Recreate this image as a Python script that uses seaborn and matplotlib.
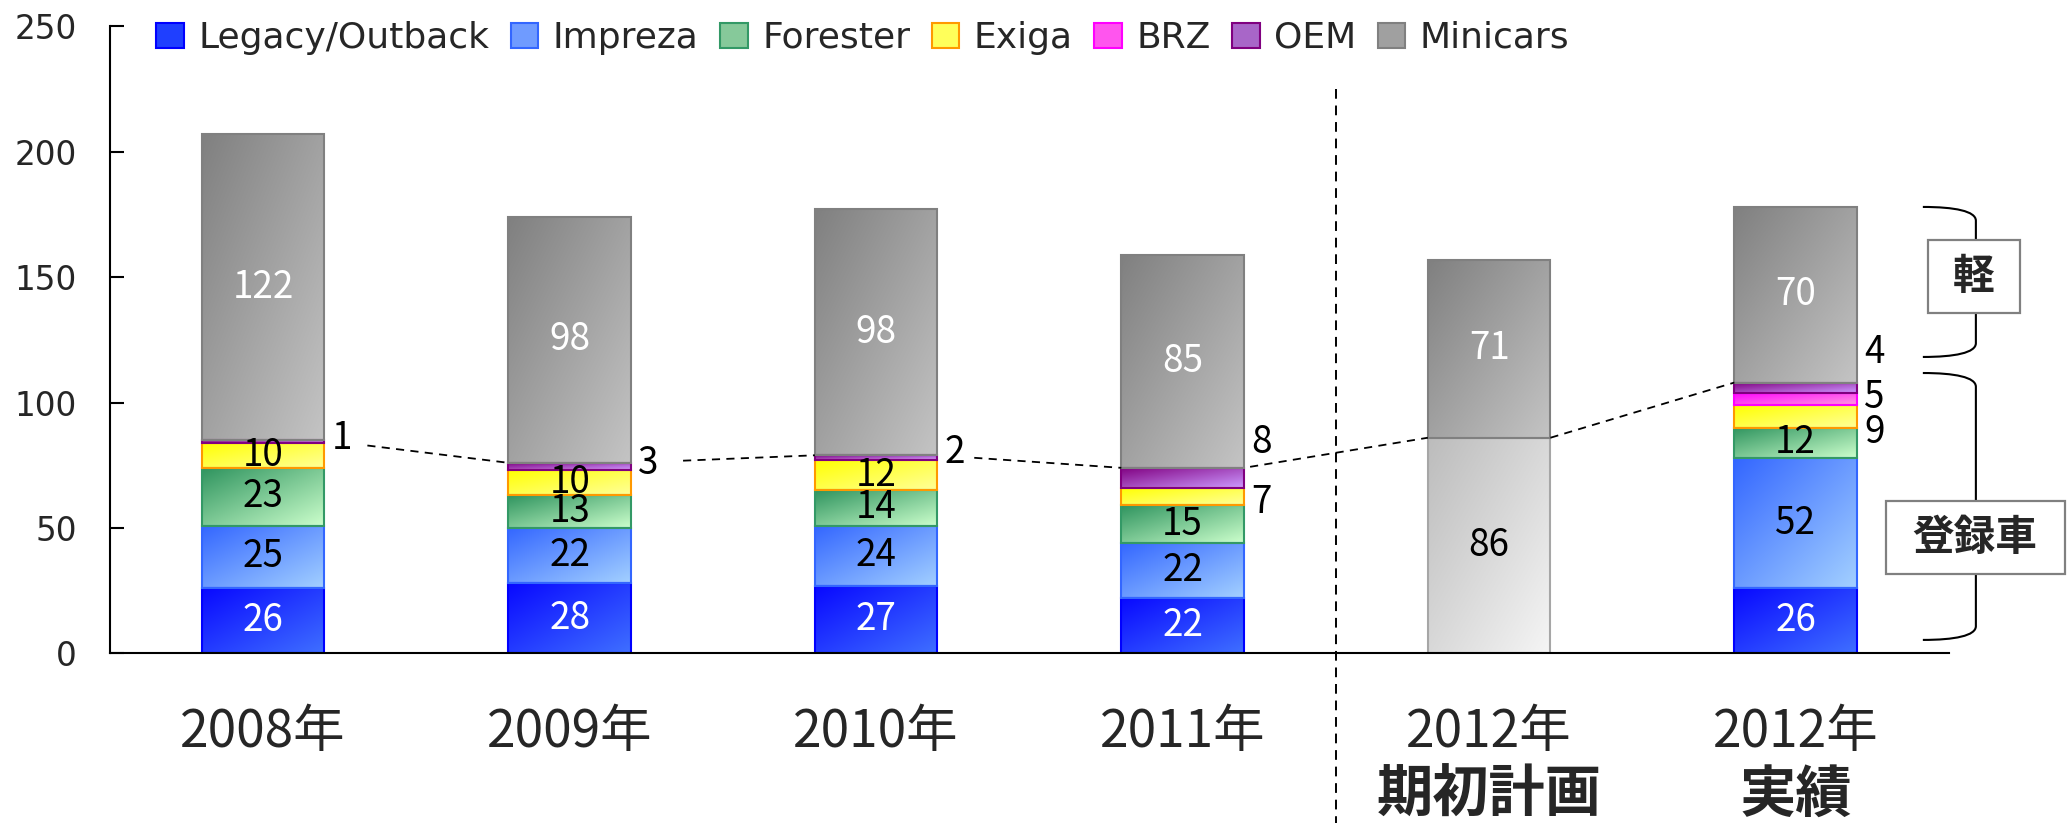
import numpy as np
import pandas as pd
import matplotlib
matplotlib.use("Agg")
import matplotlib.pyplot as plt
import matplotlib.transforms as mtransforms
import seaborn as sns
from matplotlib.patches import Patch, Rectangle, PathPatch
from matplotlib.path import Path
from matplotlib.colors import to_rgb

# ---------------- data ----------------
categories = ["2008年", "2009年", "2010年", "2011年", "2012年 期初計画", "2012年 実績"]
year_labels = ["2008年", "2009年", "2010年", "2011年", "2012年", "2012年"]
sub_labels = ["", "", "", "", "期初計画", "実績"]

legacy = [26, 28, 27, 22, 0, 26]
impreza = [25, 22, 24, 22, 0, 52]
forester = [23, 13, 14, 15, 0, 12]
exiga = [10, 10, 12, 7, 0, 9]
brz = [0, 0, 0, 0, 0, 5]
oem = [1, 3, 2, 8, 0, 4]
registered_plan = [0, 0, 0, 0, 86, 0]
minicars = [122, 98, 98, 85, 71, 70]

series_names = ["Legacy/Outback", "Impreza", "Forester", "Exiga", "BRZ", "OEM", "Minicars"]
y_ticks = [0, 50, 100, 150, 200, 250]
box_labels = ["軽", "登録車"]

# ---------------- style ----------------
FONT = ["Noto Sans CJK JP", "DejaVu Sans"]
LATIN = ["DejaVu Sans"]
STYLE = {  # (gradient start, gradient end, edge, legend colour)
    "Legacy/Outback": ("#0808ff", "#3f6fff", "#0000ff", "#1f3fff"),
    "Impreza": ("#3366ff", "#a3d0ff", "#3366ff", "#6f9bff"),
    "Forester": ("#2f945f", "#ccffcc", "#339966", "#86c99a"),
    "Exiga": ("#ffff00", "#ffff99", "#ff9900", "#ffff5a"),
    "BRZ": ("#ff00ff", "#ff99e0", "#ff00ff", "#ff55ee"),
    "OEM": ("#800080", "#cc99ff", "#800080", "#a866c8"),
    "plan": ("#bcbcbc", "#f5f5f5", "#a6a6a6", "#d8d8d8"),
    "Minicars": ("#808080", "#c4c4c4", "#808080", "#a0a0a0"),
}
BAR_W = 0.4
outside_shift = {("Exiga", 3): -2.5, ("Exiga", 5): -6.5, ("OEM", 0): 1.0,
                 ("OEM", 1): 1.3, ("OEM", 2): 2.0, ("OEM", 3): 14.0,
                 ("OEM", 5): 14.0, ("BRZ", 5): 0.5}
connector_gap = [0.14, 0.17, 0.12, 0.02, 0.0]

sns.set_theme(style="white")
plt.rcParams["font.family"] = FONT

fig = plt.figure(figsize=(20.7, 8.23), dpi=100)
ax = fig.add_axes([0.0531, 0.206, 0.8884, 0.762])


def gradient_image(c0, c1, n=80):
    u = np.linspace(0, 1, n)
    U, V = np.meshgrid(u, u)
    t = 0.5 * U + 0.5 * V
    a = np.array(to_rgb(c0))
    b = np.array(to_rgb(c1))
    return a[None, None, :] * (1 - t[..., None]) + b[None, None, :] * t[..., None]


def add_gradient(ax, patch, c0, c1):
    x0, y0 = patch.get_x(), patch.get_y()
    w, h = patch.get_width(), patch.get_height()
    im = ax.imshow(gradient_image(c0, c1), extent=(x0, x0 + w, y0, y0 + h), origin="upper",
                   aspect="auto", interpolation="bilinear", zorder=1.9)
    im.set_clip_path(patch)


stack = [("Legacy/Outback", legacy), ("Impreza", impreza), ("Forester", forester),
         ("Exiga", exiga), ("BRZ", brz), ("OEM", oem), ("plan", registered_plan),
         ("Minicars", minicars)]

bottom = np.zeros(len(categories))
seg_info = {}
for key, vals in stack:
    df = pd.DataFrame({"cat": categories, "val": vals})
    n0 = len(ax.patches)
    c0, c1, ec, lc = STYLE[key]
    sns.barplot(data=df, x="cat", y="val", order=categories, ax=ax, width=BAR_W,
                bottom=bottom.copy(), errorbar=None, color=lc,
                facecolor="none", edgecolor=ec, linewidth=1.5, zorder=2)
    new = ax.patches[n0:]
    for p in new:
        if p.get_height() <= 0:
            p.set_visible(False)
        else:
            add_gradient(ax, p, c0, c1)
    seg_info[key] = (np.array(vals, dtype=float), bottom.copy())
    bottom = bottom + np.array(vals, dtype=float)

# ---------------- value labels ----------------
lab_kw = dict(fontsize=26.5, family=FONT, zorder=5)
for key, (vals, bot) in seg_info.items():
    for i, v in enumerate(vals):
        if v <= 0:
            continue
        yc = bot[i] + v / 2
        if key in ("Legacy/Outback", "Minicars"):
            ax.text(i, yc, f"{int(v)}", ha="center", va="center", color="white", **lab_kw)
        elif key in ("Impreza", "Forester", "plan") or (key == "Exiga" and v >= 10):
            ax.text(i, yc, f"{int(v)}", ha="center", va="center", color="black", **lab_kw)
        else:
            ax.annotate(f"{int(v)}", xy=(i + BAR_W / 2, yc + outside_shift.get((key, i), 0)),
                        xytext=(5, 0), textcoords="offset points",
                        ha="left", va="center", color="black", **lab_kw)

# ---------------- connectors between registered totals ----------------
reg_top = np.array(legacy) + np.array(impreza) + np.array(forester) + np.array(exiga) \
    + np.array(brz) + np.array(oem) + np.array(registered_plan)
for i in range(len(categories) - 1):
    xa, xb = i + BAR_W / 2, i + 1 - BAR_W / 2
    ya, yb = reg_top[i], reg_top[i + 1]
    g = connector_gap[i]
    ys = ya + (yb - ya) * g / (xb - xa)
    ax.plot([xa + g, xb], [ys, yb], color="black", lw=1.3, ls=(0, (4.5, 3.5)), zorder=3)

# separator
ax.plot([3.5, 3.5], [225, -68], color="black", lw=1.4, ls=(0, (5, 3.5)),
        clip_on=False, zorder=3)

# ---------------- axes styling ----------------
ax.set_xlim(-0.5, 5.5)
ax.set_ylim(0, 250)
ax.set_yticks(y_ticks)
ax.set_yticklabels([str(t) for t in y_ticks], family=LATIN, fontsize=23.5)
ax.set_xticks(range(len(categories)))
ax.set_xticklabels([""] * len(categories))
ax.set_xticks(np.arange(-0.5, 5.6, 1.0), minor=True)
ax.tick_params(axis="x", which="major", length=0)
ax.tick_params(axis="x", which="minor", direction="in", length=11, width=1.5, color="black")
ax.tick_params(axis="y", direction="in", length=10, width=1.5, color="black",
               pad=24, left=True)
ax.set_xlabel("")
ax.set_ylabel("")
for s in ("top", "right"):
    ax.spines[s].set_visible(False)
for s in ("left", "bottom"):
    ax.spines[s].set_visible(True)
    ax.spines[s].set_color("black")
    ax.spines[s].set_linewidth(1.5)
ax.set_facecolor("white")
ax.grid(False)

trans = mtransforms.blended_transform_factory(ax.transData, ax.transAxes)
for i, (yl, sl) in enumerate(zip(year_labels, sub_labels)):
    ax.text(i, -0.126, yl, transform=trans, ha="center", va="center",
            fontsize=37, family=FONT, clip_on=False)
    if sl:
        ax.text(i, -0.2257, sl, transform=trans, ha="center", va="center",
                fontsize=40.5, fontweight="bold", family=FONT, clip_on=False)

# ---------------- braces & boxes ----------------
def brace(ax, x0, x1, ytop, ybot, r):
    xm = x0 + 0.6 * (x1 - x0)
    verts = [(x0, ytop), (xm, ytop), (x1, ytop - 0.3 * r), (x1, ytop - r),
             (x1, ybot + r),
             (x1, ybot + 0.3 * r), (xm, ybot), (x0, ybot)]
    codes = [Path.MOVETO, Path.CURVE4, Path.CURVE4, Path.CURVE4, Path.LINETO,
             Path.CURVE4, Path.CURVE4, Path.CURVE4]
    ax.add_patch(PathPatch(Path(verts, codes), fc="none", ec="black", lw=1.5,
                           clip_on=False, zorder=3))

brace(ax, 5.415, 5.588, 178.0, 118.2, 5.5)
brace(ax, 5.415, 5.588, 111.8, 5.4, 5.5)

boxes = [((0.9314, 0.6197, 0.0444, 0.0887), (0.9536, 0.664)),
         ((0.9111, 0.3026, 0.0865, 0.0887), (0.9541, 0.3469))]
for (rect, (tx, ty)), lab in zip(boxes, box_labels):
    bx, by, bw, bh = rect
    fig.add_artist(Rectangle((bx, by), bw, bh, transform=fig.transFigure,
                             fc="white", ec="#808080", lw=1.6, zorder=5))
    fig.text(tx, ty, lab, ha="center", va="center", fontsize=30, fontweight="bold",
             family=FONT, zorder=6)

# ---------------- legend ----------------
handles = [Patch(facecolor=STYLE[n][3], edgecolor=STYLE[n][2], lw=1.5) for n in series_names]
fig.legend(handles, series_names, loc="center left", bbox_to_anchor=(0.0755, 0.954),
           ncol=7, frameon=False, prop={"family": LATIN, "size": 26},
           handlelength=0.76, handleheight=0.68,
           handletextpad=0.4, columnspacing=0.6, borderpad=0, borderaxespad=0)

fig.savefig("out.png", dpi=100, facecolor="white")
